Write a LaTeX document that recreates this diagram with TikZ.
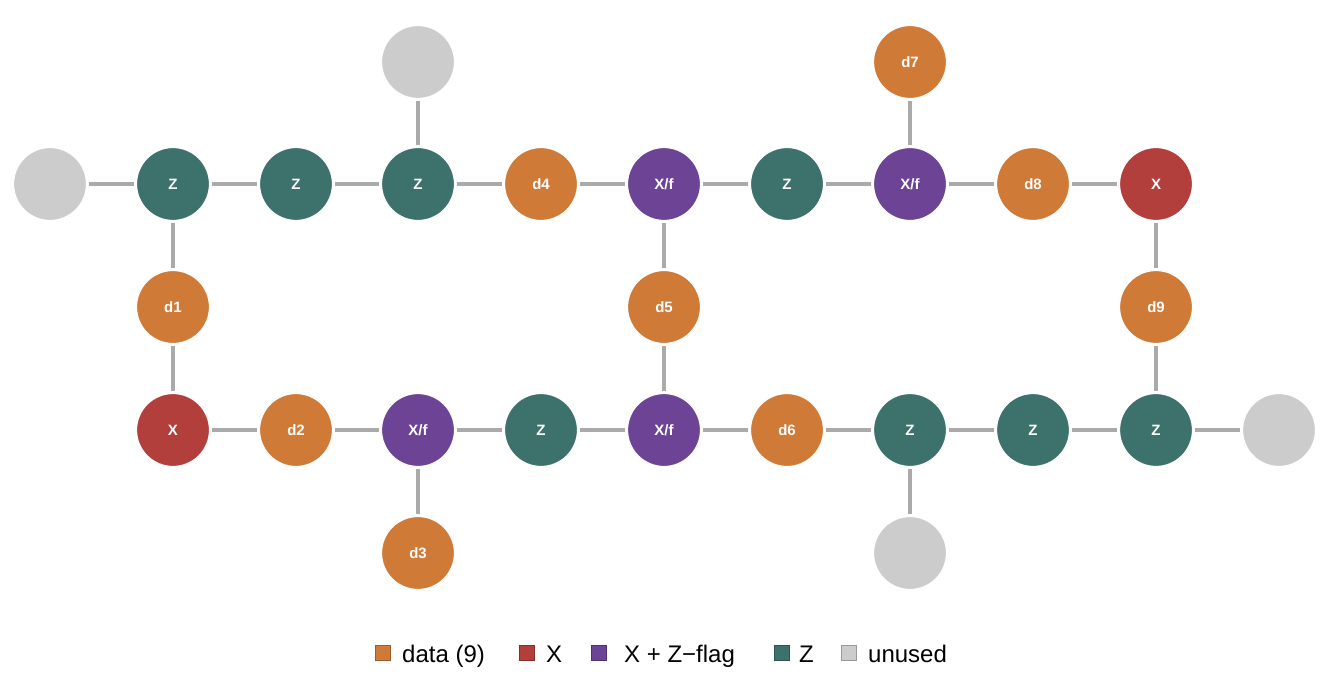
\documentclass[tikz,border=0pt]{standalone}
\usepackage{fontspec}
\setmainfont{Liberation Sans}
\definecolor{cdata}{HTML}{D07A38}
\definecolor{cx}{HTML}{B23F3B}
\definecolor{cxf}{HTML}{6C4395}
\definecolor{cz}{HTML}{3D726C}
\definecolor{cun}{HTML}{CCCCCC}
\definecolor{cedge}{HTML}{AAAAAA}
\tikzset{
  qb/.style={circle, minimum size=73pt, inner sep=0pt, draw=white, line width=1.2pt, text=white, font=\bfseries\fontsize{15}{15}\selectfont},
  dq/.style={qb, fill=cdata},
  xq/.style={qb, fill=cx},
  xfq/.style={qb, fill=cxf},
  zq/.style={qb, fill=cz},
  uq/.style={qb, fill=cun},
  edge/.style={draw=cedge, line width=4pt, shorten >=2pt, shorten <=2pt},
  legsq/.style={minimum size=15pt, inner sep=0pt, line width=0.8pt},
  legtx/.style={anchor=base west, inner sep=0pt, font=\fontsize{24}{24}\selectfont}
}
\begin{document}
\begin{tikzpicture}[x=1pt,y=-1pt]
\useasboundingbox (0,0) rectangle (1344,696);
% row 0
\node[uq] (u0) at (418,62) {};
\node[dq] (d7) at (910,62) {d7};
% row 1
\node[uq] (u1) at (50,184) {};
\node[zq] (z11) at (173,184) {Z};
\node[zq] (z12) at (296,184) {Z};
\node[zq] (z13) at (418,184) {Z};
\node[dq] (d4) at (541,184) {d4};
\node[xfq] (f15) at (664,184) {X/f};
\node[zq] (z16) at (787,184) {Z};
\node[xfq] (f17) at (910,184) {X/f};
\node[dq] (d8) at (1033,184) {d8};
\node[xq] (x19) at (1156,184) {X};
% row 2
\node[dq] (d1) at (173,307) {d1};
\node[dq] (d5) at (664,307) {d5};
\node[dq] (d9) at (1156,307) {d9};
% row 3
\node[xq] (x31) at (173,430) {X};
\node[dq] (d2) at (296,430) {d2};
\node[xfq] (f33) at (418,430) {X/f};
\node[zq] (z34) at (541,430) {Z};
\node[xfq] (f35) at (664,430) {X/f};
\node[dq] (d6) at (787,430) {d6};
\node[zq] (z37) at (910,430) {Z};
\node[zq] (z38) at (1033,430) {Z};
\node[zq] (z39) at (1156,430) {Z};
\node[uq] (u2) at (1279,430) {};
% row 4
\node[dq] (d3) at (418,553) {d3};
\node[uq] (u3) at (910,553) {};
% edges
\foreach \a/\b in {u1/z11, z11/z12, z12/z13, z13/d4, d4/f15, f15/z16, z16/f17, f17/d8, d8/x19,
  u0/z13, d7/f17,
  z11/d1, d1/x31, f15/d5, d5/f35, x19/d9, d9/z39,
  x31/d2, d2/f33, f33/z34, z34/f35, f35/d6, d6/z37, z37/z38, z38/z39, z39/u2,
  f33/d3, z37/u3}
  \draw[edge] (\a) -- (\b);
% legend
\node[legsq, fill=cdata, draw=cdata!75!black] (l1) at (383,653) {};
\node[legtx] (t1) at (402,662) {data (9)};
\node[legsq, fill=cx, draw=cx!75!black] (l2) at (527,653) {};
\node[legtx] (t2) at (546,662) {X};
\node[legsq, fill=cxf, draw=cxf!75!black] (l3) at (599,653) {};
\node[legtx] (t3) at (624,662) {X + Z\symbol{"2212}flag};
\node[legsq, fill=cz, draw=cz!75!black] (l4) at (782,653) {};
\node[legtx] (t4) at (799,662) {Z};
\node[legsq, fill=cun, draw=cun!75!black] (l5) at (849,653) {};
\node[legtx] (t5) at (868,662) {unused};
\end{tikzpicture}
\end{document}
